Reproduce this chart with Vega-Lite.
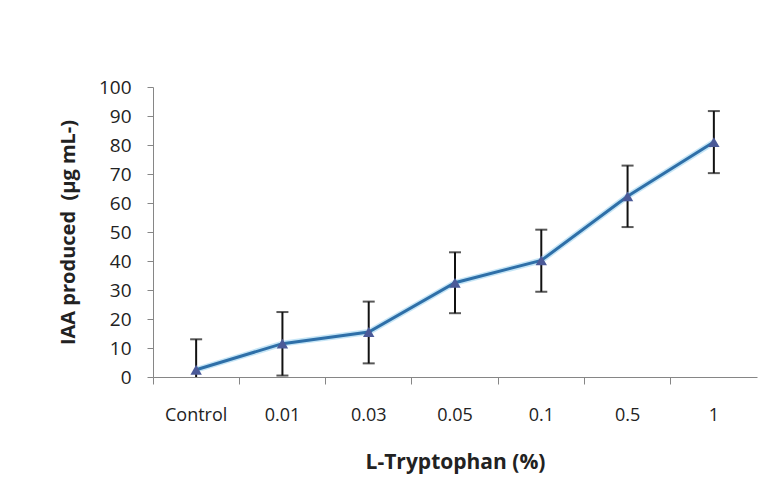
{
  "$schema": "https://vega.github.io/schema/vega-lite/v6.json",
  "width": 604,
  "height": 290,
  "autosize": {"type": "none"},
  "padding": {"left": 153, "top": 87, "right": 22, "bottom": 113},
  "background": "white",
  "config": {
    "view": {"stroke": null},
    "font": "Open Sans",
    "axis": {"labelFont": "Open Sans", "titleFont": "Open Sans", "labelColor": "#222", "titleColor": "#222", "domainColor": "#868686", "tickColor": "#868686", "grid": false}
  },
  "data": {
    "values": [
      {"treatment": "Control", "mean": 2.5, "lo": -8, "hi": 13},
      {"treatment": "0.01", "mean": 11.5, "lo": 0.5, "hi": 22.4},
      {"treatment": "0.03", "mean": 15.5, "lo": 4.7, "hi": 26},
      {"treatment": "0.05", "mean": 32.5, "lo": 22, "hi": 43},
      {"treatment": "0.1", "mean": 40.2, "lo": 29.4, "hi": 50.8},
      {"treatment": "0.5", "mean": 62.3, "lo": 51.7, "hi": 72.9},
      {"treatment": "1", "mean": 81, "lo": 70.3, "hi": 91.7}
    ]
  },
  "encoding": {
    "x": {
      "field": "treatment",
      "type": "nominal",
      "sort": null,
      "scale": {"paddingInner": 0, "paddingOuter": 0},
      "axis": {"labelAngle": 0, "labelFontSize": 18, "labelPadding": 22, "tickSize": 7, "bandPosition": 0, "title": "L-Tryptophan (%)", "titleFontSize": 21, "titleFontWeight": "bold", "titlePadding": 27}
    },
    "y": {
      "field": "mean",
      "type": "quantitative",
      "scale": {"domain": [0, 100], "nice": false, "clamp": true},
      "axis": {"values": [0, 10, 20, 30, 40, 50, 60, 70, 80, 90, 100], "tickCount": 20, "labelOverlap": false, "labelBound": false, "labelSeparation": 0, "labelFontSize": 19, "labelPadding": 16, "tickSize": 6, "title": "IAA produced\u00a0\u00a0(µg mL-)", "titleFontSize": 20, "titleFontWeight": "bold", "titlePadding": 20}
    }
  },
  "layer": [
    {
      "mark": {"type": "rule", "color": "#111", "strokeWidth": 2},
      "encoding": {
        "y": {"field": "lo", "type": "quantitative"},
        "y2": {"field": "hi"}
      }
    },
    {
      "mark": {"type": "tick", "color": "#111", "thickness": 2, "size": 12},
      "encoding": {"y": {"field": "hi", "type": "quantitative"}}
    },
    {
      "transform": [{"filter": "datum.lo >= 0"}],
      "mark": {"type": "tick", "color": "#111", "thickness": 2, "size": 12},
      "encoding": {"y": {"field": "lo", "type": "quantitative"}}
    },
    {
      "mark": {"type": "line", "color": "#9fd3f0", "strokeWidth": 6, "opacity": 0.6}
    },
    {
      "mark": {"type": "line", "color": "#2e6fa8", "strokeWidth": 3}
    },
    {
      "mark": {"type": "point", "shape": "triangle-up", "filled": true, "color": "#4b5a98", "size": 130, "opacity": 1}
    }
  ]
}
